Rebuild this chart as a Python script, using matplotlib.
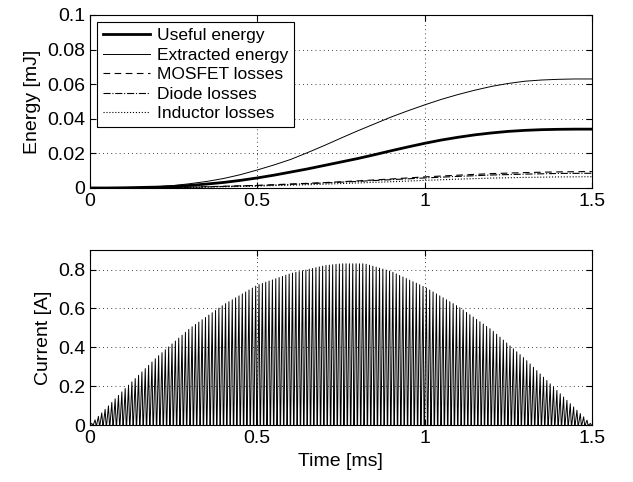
import numpy as np
import matplotlib.pyplot as plt

plt.rcParams['font.family'] = ['Liberation Sans', 'DejaVu Sans']
plt.rcParams['font.size'] = 14

# Energiecurves (aflezing elke 0.05 ms)
t_e = [0.0, 0.05, 0.1, 0.15, 0.2, 0.25, 0.3, 0.35, 0.4, 0.45, 0.5, 0.55, 0.6, 0.65, 0.7,
       0.75, 0.8, 0.85, 0.9, 0.95, 1.0, 1.05, 1.1, 1.15, 1.2, 1.25, 1.3, 1.35, 1.4, 1.45, 1.5]
useful = [0, 0, 0.0001, 0.0003, 0.0005, 0.0009, 0.0015, 0.0023, 0.0032, 0.0044, 0.0058,
          0.0074, 0.0092, 0.011, 0.013, 0.015, 0.017, 0.0192, 0.0215, 0.0237, 0.0258,
          0.0277, 0.0293, 0.0307, 0.0318, 0.0327, 0.0333, 0.0337, 0.0339, 0.034, 0.034]
extracted = [0, 0, 0.0001, 0.0003, 0.0007, 0.0014, 0.0025, 0.0038, 0.0055, 0.0077, 0.0104,
             0.0133, 0.0165, 0.0204, 0.0245, 0.0288, 0.033, 0.037, 0.041, 0.0446, 0.048,
             0.0512, 0.054, 0.0565, 0.0587, 0.0604, 0.0617, 0.0624, 0.0628, 0.063, 0.063]

# Verliezen (aflezing elke 0.1 ms)
t_l = [0.0, 0.1, 0.2, 0.3, 0.4, 0.5, 0.6, 0.7, 0.8, 0.9, 1.0, 1.1, 1.2, 1.3, 1.4, 1.5]
mosfet = [0, 0, 0.0001, 0.0005, 0.0010, 0.0015, 0.0023, 0.0031, 0.0041, 0.0052,
          0.0064, 0.0074, 0.0083, 0.0089, 0.0093, 0.0095]
diode = [0, 0, 0.0001, 0.0004, 0.0009, 0.0014, 0.0021, 0.0029, 0.0038, 0.0048,
         0.0058, 0.0067, 0.0075, 0.0080, 0.0084, 0.0085]
inductor = [0, 0, 0.0001, 0.0003, 0.0007, 0.0011, 0.0016, 0.0022, 0.0029, 0.0036,
            0.0044, 0.0051, 0.0057, 0.0061, 0.0064, 0.0065]

# Stroom: piekwaarde (omhullende) en aantal schakelperiodes
t_env = [0.0, 0.1, 0.2, 0.3, 0.4, 0.5, 0.6, 0.7, 0.75, 0.82, 0.9, 1.0, 1.1, 1.2, 1.3, 1.4, 1.5]
i_env = [0, 0.18, 0.35, 0.50, 0.62, 0.72, 0.78, 0.82, 0.83, 0.83, 0.79, 0.71, 0.61,
         0.49, 0.34, 0.17, 0]
n_pulses = 150

# Driehoekvormige stroompulsen opbouwen
T = 1.5 / n_pulses
t_i, i_i = [], []
for k in range(n_pulses):
    t0 = k * T
    pk = np.interp(t0 + 0.5 * T, t_env, i_env)
    t_i += [t0, t0 + 0.55 * T, t0 + 0.85 * T]
    i_i += [0, pk, 0]
t_i.append(1.5)
i_i.append(0)

fig = plt.figure(figsize=(6.33, 4.82), dpi=100)
ax1 = fig.add_axes([0.142, 0.610, 0.793, 0.359])
ax2 = fig.add_axes([0.142, 0.118, 0.793, 0.363])

ax1.plot(t_e, useful, 'k-', lw=2, label='Useful energy')
ax1.plot(t_e, extracted, 'k-', lw=0.7, label='Extracted energy')
ax1.plot(t_l, mosfet, 'k--', lw=0.8, dashes=(6, 4), label='MOSFET losses')
ax1.plot(t_l, diode, 'k-.', lw=0.8, label='Diode losses')
ax1.plot(t_l, inductor, 'k:', lw=0.8, label='Inductor losses')
ax1.set_xlim(0, 1.5)
ax1.set_ylim(0, 0.1)
ax1.set_xticks([0, 0.5, 1, 1.5])
ax1.set_xticklabels(['0', '0.5', '1', '1.5'])
ax1.set_yticks([0, 0.02, 0.04, 0.06, 0.08, 0.1])
ax1.set_yticklabels(['0', '0.02', '0.04', '0.06', '0.08', '0.1'])
ax1.set_ylabel('Energy [mJ]')
leg = ax1.legend(loc='upper left', handlelength=2.7, fancybox=False, framealpha=1,
                 edgecolor='k', borderaxespad=0.4, labelspacing=0.25, fontsize=12.5,
                 borderpad=0.35, handletextpad=0.4)
leg.get_frame().set_linewidth(0.8)

ax2.plot(t_i, i_i, 'k-', lw=0.7)
ax2.set_xlim(0, 1.5)
ax2.set_ylim(0, 0.9)
ax2.set_xticks([0, 0.5, 1, 1.5])
ax2.set_xticklabels(['0', '0.5', '1', '1.5'])
ax2.set_yticks([0, 0.2, 0.4, 0.6, 0.8])
ax2.set_yticklabels(['0', '0.2', '0.4', '0.6', '0.8'])
ax2.set_ylabel('Current [A]')
ax2.set_xlabel('Time [ms]')

for ax in (ax1, ax2):
    ax.grid(True, linestyle=(0, (1, 4)), color='k', lw=0.6)
    ax.tick_params(direction='in', top=True, right=True, length=4)
    for s in ax.spines.values():
        s.set_linewidth(0.8)

fig.savefig('out.png', dpi=100)
